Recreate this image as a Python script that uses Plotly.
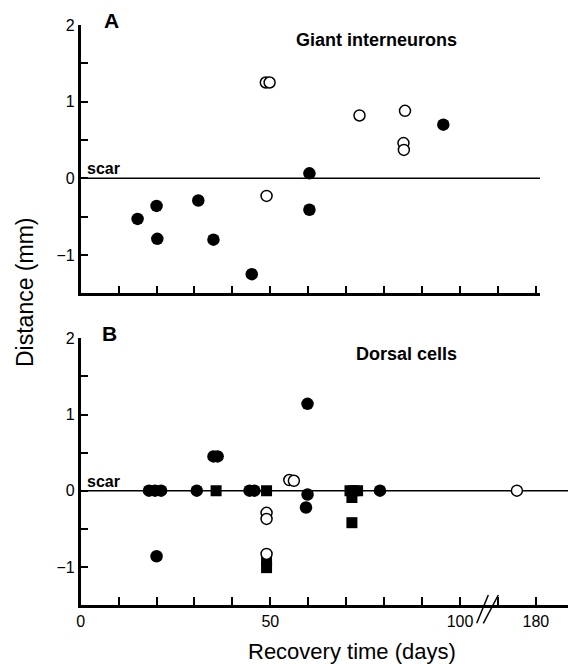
import plotly.graph_objects as go

# ---------------- data (days, distance in mm) ----------------
A_filled_days = [15, 20, 20.2, 31, 35, 45.1, 60.3, 60.3, 95.6]
A_filled_dist = [-0.53, -0.36, -0.79, -0.29, -0.80, -1.25, 0.065, -0.41, 0.70]
A_open_days = [48.8, 49.8, 49.0, 73.5, 85.5, 85.1, 85.2]
A_open_dist = [1.25, 1.25, -0.23, 0.82, 0.88, 0.46, 0.37]

B_circle_days = [18.0, 19.6, 21.2, 20.0, 30.6, 35.0, 36.1, 44.5, 45.8, 59.8, 59.8, 59.4, 78.9]
B_circle_dist = [0, 0, 0, -0.86, 0, 0.45, 0.45, 0, 0, 1.14, -0.05, -0.22, 0]
B_square_days = [35.7, 49.0, 71.0, 72.0, 73.0, 71.5, 71.5, 49.0, 49.0]
B_square_dist = [0, 0, 0, 0, 0, -0.09, -0.42, -0.92, -1.01]
B_open_days = [49.0, 49.0, 49.0, 55.0, 56.2, 175]
B_open_dist = [-0.29, -0.37, -0.83, 0.14, 0.13, 0]

x_tick_days = [0, 10, 20, 30, 40, 50, 60, 70, 80, 90, 100, 170, 180]
x_tick_text = ["0", "", "", "", "", "50", "", "", "", "", "100", "", "180"]
y_tick_vals = [-1, -0.5, 0, 0.5, 1, 1.5, 2]
y_tick_text = ["\u22121", "", "0", "", "1", "", "2"]


# broken x axis: days above the break are shifted left by 60 days
def brk(d):
    return d if d <= 100 else d - 60


def bx(lst):
    return [brk(v) for v in lst]


W, H = 576, 664
FONT = "Liberation Sans, Arial, Helvetica, sans-serif"
BOLDN = "Liberation Sans Narrow, Liberation Sans, Arial, sans-serif"

x0px = 80.7
px_per_day = 3.793
A_xend, B_xend = 540, 568
A_top, A_bot = 25, 293.3
B_top, B_bot = 338.3, 605


def dom_x(end):
    return [x0px / W, end / W]


def dom_y(top, bot):
    return [1 - bot / H, 1 - top / H]


fig = go.Figure()

filled = dict(symbol="circle", size=12.5, color="black", line=dict(width=0))
opened = dict(symbol="circle", size=11, color="white", line=dict(width=1.5, color="black"))
square = dict(symbol="square", size=11, color="black", line=dict(width=0))

fig.add_trace(go.Scatter(x=bx(A_filled_days), y=A_filled_dist, mode="markers", marker=filled,
                         xaxis="x", yaxis="y", showlegend=False))
fig.add_trace(go.Scatter(x=bx(A_open_days), y=A_open_dist, mode="markers", marker=opened,
                         xaxis="x", yaxis="y", showlegend=False))
fig.add_trace(go.Scatter(x=bx(B_circle_days), y=B_circle_dist, mode="markers", marker=filled,
                         xaxis="x2", yaxis="y2", showlegend=False))
fig.add_trace(go.Scatter(x=bx(B_square_days), y=B_square_dist, mode="markers", marker=square,
                         xaxis="x2", yaxis="y2", showlegend=False))
fig.add_trace(go.Scatter(x=bx(B_open_days), y=B_open_dist, mode="markers", marker=opened,
                         xaxis="x2", yaxis="y2", showlegend=False))

A_range = (A_xend - x0px) / px_per_day
B_range = (B_xend - x0px) / px_per_day

common_x = dict(showline=True, linecolor="black", linewidth=2.5, ticks="inside", ticklen=8,
                tickwidth=1.5, tickcolor="black", tickvals=bx(x_tick_days), ticktext=x_tick_text,
                showgrid=False, zeroline=False, automargin=False,
                tickfont=dict(family=FONT, size=16, color="black"))
common_y = dict(showline=True, linecolor="black", linewidth=2.5, ticks="inside", ticklen=8,
                tickwidth=1.5, tickcolor="black", tickvals=y_tick_vals, ticktext=y_tick_text,
                range=[-1.5, 2], showgrid=False, zeroline=False, automargin=False,
                tickfont=dict(family=FONT, size=16, color="black"))

fig.update_layout(
    width=W, height=H, margin=dict(l=0, r=0, t=0, b=0),
    paper_bgcolor="white", plot_bgcolor="white", template="none",
    xaxis=dict(common_x, domain=dom_x(A_xend), range=[0, A_range], anchor="y", showticklabels=False),
    yaxis=dict(common_y, domain=dom_y(A_top, A_bot), anchor="x"),
    xaxis2=dict(common_x, domain=dom_x(B_xend), range=[0, B_range], anchor="y2"),
    yaxis2=dict(common_y, domain=dom_y(B_top, B_bot), anchor="x2"),
)

# scar reference lines
for xr, yr in (("x domain", "y"), ("x2 domain", "y2")):
    fig.add_shape(type="line", xref=xr, yref=yr, x0=0, x1=1, y0=0, y1=0,
                  line=dict(color="black", width=1.5), layer="below")

# axis break marks "//" on panel B (decoration, in paper coordinates)
for (ax, ay, bx_, by) in ((476.7, 623.3, 488.3, 595.0), (483.3, 623.3, 498.3, 595.0)):
    fig.add_shape(type="line", xref="paper", yref="paper", x0=ax / W, y0=1 - ay / H,
                  x1=bx_ / W, y1=1 - by / H, line=dict(color="black", width=1.5))


def ann(text, xpx, ypx, size, bold=False, xanchor="center", family=FONT, angle=0):
    fig.add_annotation(text=f"<b>{text}</b>" if bold else text, xref="paper", yref="paper",
                       x=xpx / W, y=1 - ypx / H, xanchor=xanchor, yanchor="middle",
                       showarrow=False, textangle=angle,
                       font=dict(family=family, size=size, color="black"))


ann("A", 101.5, 21, 21, bold=True, xanchor="left")
ann("B", 99.5, 333, 21, bold=True, xanchor="left")
ann("Giant interneurons", 459, 40, 18, bold=True, xanchor="right", family=BOLDN)
ann("Dorsal cells", 459, 353.5, 18, bold=True, xanchor="right", family=BOLDN)
ann("scar", 85, 168, 16, bold=True, xanchor="left")
ann("scar", 85, 481, 16, bold=True, xanchor="left")
ann("Distance (mm)", 25, 292, 23, angle=-90)
ann("Recovery time (days)", 351.7, 651, 22)

fig.write_html("out.html")
